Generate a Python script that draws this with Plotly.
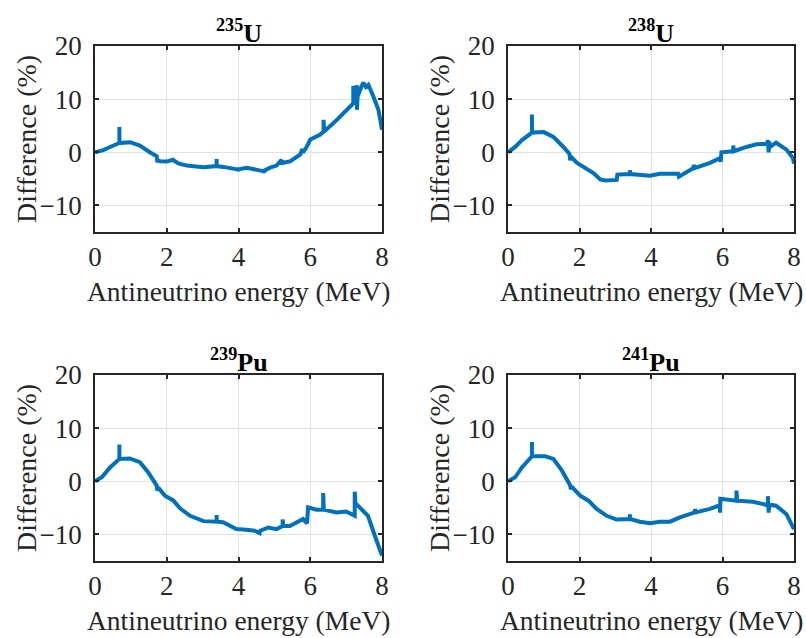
import plotly.graph_objects as go

# ---- data ----
u235_e = [0.0, 0.23, 0.42, 0.68, 0.68, 0.68, 0.98, 1.25, 1.53, 1.72, 1.74, 1.76, 1.81, 2.0, 2.17, 2.32, 2.56,
          3.02, 3.39, 3.39, 3.39, 3.58, 4.0, 4.0, 4.0, 4.23, 4.69, 4.71, 4.73, 4.88, 5.06, 5.2, 5.2, 5.22, 5.44,
          5.72, 5.78, 5.8, 5.9, 6.0, 6.27, 6.37, 6.37, 6.39, 6.74, 7.06, 7.2, 7.2, 7.22, 7.25, 7.3, 7.3, 7.32,
          7.43, 7.48, 7.55, 7.62, 7.76, 7.9, 8.0]
u235_d = [0.0, 0.4, 1.0, 1.75, 4.75, 1.75, 1.9, 1.25, 0.0, -0.75, -1.9, -1.5, -1.7, -1.75, -1.4, -2.1, -2.5,
          -2.8, -2.6, -1.25, -2.6, -2.75, -3.25, -3.6, -3.2, -2.9, -3.55, -3.8, -3.4, -2.9, -2.5, -1.4, -2.0, -2.0, -1.7,
          -0.4, 0.6, 0.0, 1.0, 2.4, 3.3, 3.9, 6.1, 3.9, 6.1, 8.3, 9.2, 12.5, 9.3, 9.6, 12.6, 8.0, 10.5,
          12.4, 13.1, 12.3, 12.7, 10.5, 8.0, 4.25]

u238_e = [0.0, 0.2, 0.39, 0.67, 0.67, 0.67, 1.0, 1.27, 1.55, 1.72, 1.74, 1.76, 1.93, 2.2, 2.39, 2.58, 2.72,
          3.04, 3.06, 3.41, 3.41, 3.43, 3.97, 4.25, 4.76, 4.78, 5.18, 5.2, 5.22, 5.65, 5.93, 5.95, 5.97, 6.3, 6.3,
          6.32, 6.67, 6.95, 7.25, 7.27, 7.29, 7.31, 7.33, 7.5, 7.79, 7.97, 8.0]
u238_d = [0.0, 1.0, 2.3, 3.7, 7.1, 3.7, 3.8, 2.9, 1.0, -0.3, -1.5, -0.8, -2.0, -3.0, -3.9, -5.1, -5.3,
          -5.2, -4.2, -4.1, -3.4, -4.1, -4.4, -4.05, -4.05, -4.6, -3.0, -2.4, -3.0, -2.0, -1.1, -1.8, 0.0, 0.2, 1.3,
          0.2, 1.0, 1.5, 1.6, 2.3, 0.0, 2.0, 1.0, 1.8, 0.5, -1.1, -2.15]

pu239_e = [0.0, 0.19, 0.42, 0.68, 0.68, 0.68, 0.97, 1.25, 1.48, 1.72, 1.74, 1.76, 1.95, 2.18, 2.37, 2.65,
           3.02, 3.39, 3.39, 3.39, 3.57, 3.94, 4.22, 4.45, 4.59, 4.61, 4.83, 5.06, 5.23, 5.23, 5.25, 5.43, 5.8, 5.91,
           5.94, 6.17, 6.36, 6.36, 6.38, 6.73, 7.0, 7.24, 7.24, 7.26, 7.33, 7.47, 7.61, 7.8, 8.0]
pu239_d = [0.0, 0.75, 2.6, 4.2, 6.9, 4.2, 4.3, 3.6, 1.7, -0.8, -1.8, -1.2, -2.7, -3.6, -5.1, -6.5,
           -7.5, -7.6, -6.35, -7.6, -7.7, -9.0, -9.1, -9.3, -9.75, -9.3, -8.7, -9.0, -8.4, -7.2, -8.4, -8.4, -7.1, -7.9,
           -4.9, -5.35, -5.35, -2.2, -5.35, -5.85, -5.7, -6.5, -1.95, -4.2, -4.6, -5.5, -6.5, -10.25, -14.0]

pu241_e = [0.0, 0.2, 0.39, 0.67, 0.67, 0.67, 1.04, 1.27, 1.51, 1.74, 1.76, 1.78, 2.02, 2.25, 2.48, 2.76,
           3.04, 3.41, 3.41, 3.41, 3.69, 3.97, 4.25, 4.53, 4.81, 5.23, 5.23, 5.25, 5.65, 5.93, 5.93, 5.94, 6.39,
           6.39, 6.41, 6.85, 7.27, 7.27, 7.29, 7.31, 7.5, 7.79, 8.0]
pu241_d = [0.0, 0.75, 2.6, 4.7, 7.4, 4.7, 4.7, 4.2, 2.0, -0.8, -1.5, -1.0, -2.7, -3.65, -5.2, -6.5,
           -7.2, -7.1, -6.2, -7.1, -7.6, -7.9, -7.6, -7.6, -6.8, -5.85, -5.2, -5.85, -5.2, -4.5, -5.9, -3.3, -3.65,
           -1.75, -3.65, -3.85, -4.5, -2.8, -5.9, -4.4, -4.6, -6.2, -9.0]

titles = ["<sup>235</sup>U", "<sup>238</sup>U", "<sup>239</sup>Pu", "<sup>241</sup>Pu"]
series = [(u235_e, u235_d), (u238_e, u238_d), (pu239_e, pu239_d), (pu241_e, pu241_d)]
x_ticks = [0, 2, 4, 6, 8]
y_ticks = [-10, 0, 10, 20]
x_label = "Antineutrino energy (MeV)"
y_label = "Difference (%)"

# ---- layout geometry ----
W, H = 806, 638
xdoms = [[95 / W, 382 / W], [508 / W, 794 / W]]
ydoms = [[1 - 232 / H, 1 - 46 / H], [1 - 561 / H, 1 - 375 / H]]

FONT = "Liberation Serif"
AX = "#262626"
BLUE = "#0072BD"
FS = 27

fig = go.Figure()
layout = dict(width=W, height=H, margin=dict(l=0, r=0, t=0, b=0),
              paper_bgcolor="white", plot_bgcolor="white", showlegend=False,
              font=dict(family=FONT, size=FS, color=AX))
annotations = []
for i, ((xs, ys), title) in enumerate(zip(series, titles)):
    r, c = divmod(i, 2)
    n = i + 1
    xa = "x" if n == 1 else f"x{n}"
    ya = "y" if n == 1 else f"y{n}"
    fig.add_trace(go.Scatter(x=xs, y=ys, mode="lines", xaxis=xa, yaxis=ya,
                             line=dict(color=BLUE, width=4)))
    common = dict(showline=True, linecolor=AX, linewidth=1.5, mirror="ticks",
                  ticks="inside", ticklen=4, tickwidth=1.5, tickcolor=AX,
                  showgrid=True, gridcolor="#e2e2e2", gridwidth=1, zeroline=False,
                  tickfont=dict(family=FONT, size=FS, color=AX), automargin=False)
    layout[f"xaxis{'' if n == 1 else n}"] = dict(domain=xdoms[c], anchor=ya, range=[0, 8],
                                                 tickvals=x_ticks, **common)
    layout[f"yaxis{'' if n == 1 else n}"] = dict(domain=ydoms[r], anchor=xa, range=[-15, 20],
                                                 tickvals=y_ticks, ticklabelstandoff=6, **common)
    xc = (xdoms[c][0] + xdoms[c][1]) / 2
    annotations.append(dict(text=f"<b>{title}</b>", x=xc, y=ydoms[r][1], xref="paper", yref="paper",
                            xanchor="center", yanchor="bottom", yshift=-4, showarrow=False,
                            font=dict(family=FONT, size=26, color="black")))
    annotations.append(dict(text=x_label, x=xc, y=ydoms[r][0], xref="paper", yref="paper",
                            xanchor="center", yanchor="middle", yshift=-59, showarrow=False,
                            font=dict(family=FONT, size=27.5, color=AX)))
    annotations.append(dict(text=y_label, x=xdoms[c][0], y=(ydoms[r][0] + ydoms[r][1]) / 2,
                            xref="paper", yref="paper", xanchor="center", yanchor="middle",
                            xshift=-69, textangle=-90, showarrow=False,
                            font=dict(family=FONT, size=28, color=AX)))
layout["annotations"] = annotations
fig.update_layout(**layout)
fig.write_html("out.html")
